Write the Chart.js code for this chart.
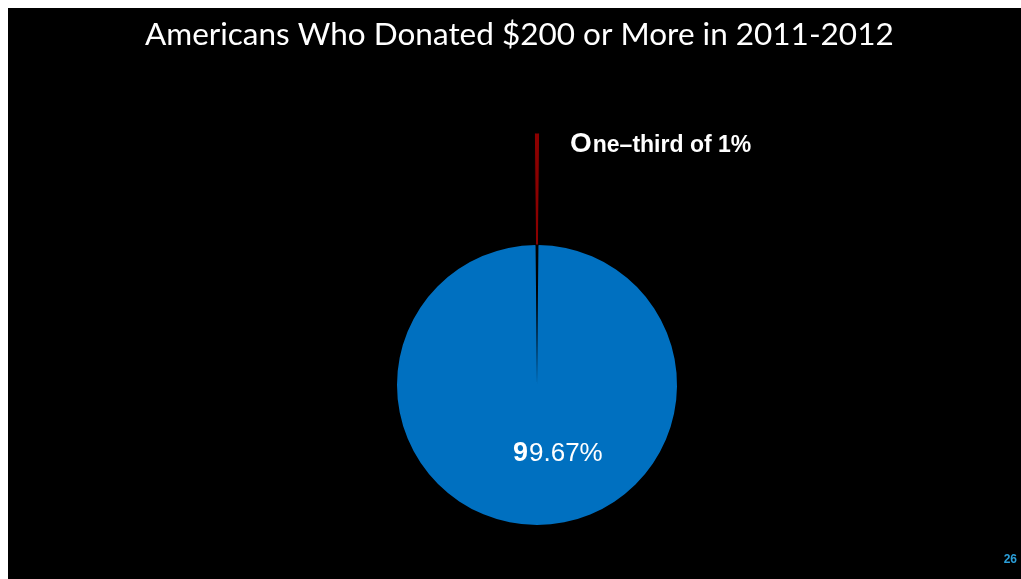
<!DOCTYPE html>
<html>
<head>
<meta charset="utf-8">
<script src="https://cdn.jsdelivr.net/npm/chart.js@4"></script>
<style>
  html, body { margin: 0; background: #fff; overflow: hidden; }
  #wrap { position: absolute; left: 8px; top: 8px; width: 1013px; height: 571px; background: #000; }
</style>
</head>
<body>
<div id="wrap"><canvas id="pie" width="1013" height="571"></canvas></div>
<script>
const groups = ['Everyone else', 'Donated $200 or more'];
const shares = [99.67, 0.33];
const sliceColors = ['#0070c0', '#8b0000'];
const sliceLabels = ['99.67%', 'One\u2013third of 1%'];
const titleText = 'Americans Who Donated $200 or More in 2011-2012';
const slideNumber = '26';

// first letter drawn bigger, like the slide text
function drawSplit(ctx, text, x, y, bigFont, smallFont) {
    ctx.font = bigFont;
    ctx.fillText(text[0], x, y);
    const w = ctx.measureText(text[0]).width;
    ctx.font = smallFont;
    ctx.fillText(text.slice(1), x + w + 1, y);
}

const slideLabels = {
    id: 'slideLabels',
    afterDraw(chart) {
        const ctx = chart.ctx;
        const arc = chart.getDatasetMeta(1).data[0];
        ctx.save();
        ctx.fillStyle = '#fff';
        ctx.textAlign = 'left';
        ctx.textBaseline = 'alphabetic';
        drawSplit(ctx, sliceLabels[1], arc.x + 33, arc.y - 233,
            'bold 28px "Liberation Sans"', 'bold 23px "Liberation Sans"');
        drawSplit(ctx, sliceLabels[0], arc.x - 24, arc.y + 76,
            'bold 27px "Liberation Sans"', '26px "Liberation Sans"');
        ctx.fillStyle = '#2b9ed8';
        ctx.font = 'bold 12px "Liberation Sans"';
        ctx.textAlign = 'right';
        ctx.fillText(slideNumber, chart.width - 4, chart.height - 16);
        ctx.restore();
    }
};

new Chart(document.getElementById('pie'), {
    type: 'pie',
    data: {
        labels: groups,
        datasets: [
            {
                // exploded small slice, pulled out past the pie
                data: shares,
                backgroundColor: ['transparent', sliceColors[1]],
                borderWidth: [0, 1],
                borderColor: '#000',
                weight: 112
            },
            {
                data: shares,
                backgroundColor: [sliceColors[0], 'transparent'],
                borderWidth: 0,
                weight: 140
            }
        ]
    },
    options: {
        responsive: false,
        animation: false,
        radius: 252,
        rotation: shares[1] / 100 * 360 / 2,
        layout: { padding: { left: 137, right: 92, top: 0, bottom: 0 } },
        plugins: {
            legend: { display: false },
            tooltip: { enabled: false },
            title: {
                display: true,
                text: titleText,
                align: 'start',
                color: '#fff',
                font: { family: 'Lato', size: 31.5, weight: 'normal' },
                padding: { top: 8, bottom: 137.2 }
            }
        }
    },
    plugins: [slideLabels]
});
</script>
</body>
</html>
